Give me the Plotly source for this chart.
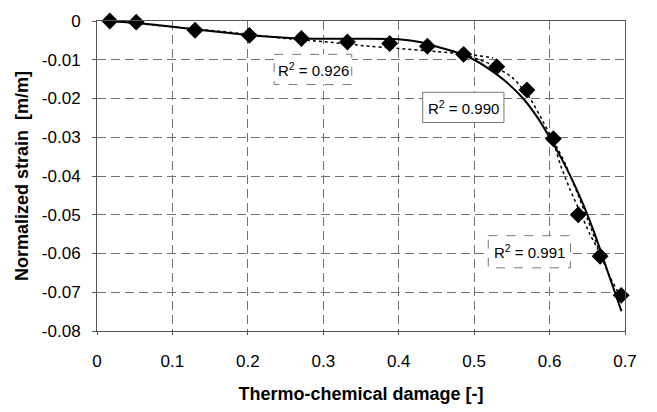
import plotly.graph_objects as go

# Measured data points
damage = [0.017, 0.052, 0.130, 0.202, 0.271, 0.332, 0.388, 0.438, 0.486, 0.530, 0.570, 0.605, 0.638, 0.667, 0.695]
strain = [0.0, -0.0003, -0.0024, -0.0037, -0.0045, -0.0054, -0.0058, -0.0065, -0.0086, -0.0118, -0.0178, -0.0304, -0.0500, -0.0607, -0.0708]

# Overall fit curve (solid)
fit_x = [0.017, 0.052, 0.10, 0.15, 0.20, 0.25, 0.30, 0.35, 0.40, 0.43, 0.45, 0.475, 0.50, 0.52, 0.54,
         0.565, 0.585, 0.60, 0.615, 0.63, 0.645, 0.66, 0.675, 0.6953]
fit_y = [0.0, -0.0005, -0.0015, -0.0026, -0.0036, -0.0043, -0.0046, -0.0046, -0.0047, -0.0055, -0.0066, -0.0080,
         -0.0100, -0.0124, -0.0153, -0.0200, -0.0252, -0.0300, -0.0352, -0.0410, -0.0475, -0.0550,
         -0.0635, -0.0749]

# Piecewise fits (dotted)
fit1_x = [0.017, 0.052, 0.10, 0.15, 0.20, 0.25, 0.30, 0.35, 0.40, 0.45, 0.50, 0.525]
fit1_y = [0.0, -0.0006, -0.0015, -0.0024, -0.0034, -0.0045, -0.0053, -0.0063, -0.0071, -0.0079, -0.0088, -0.0095]
fit2_x = [0.486, 0.52, 0.55, 0.5735, 0.5915, 0.6048, 0.6136, 0.627, 0.642, 0.6534, 0.6644]
fit2_y = [-0.0086, -0.0110, -0.0145, -0.0198, -0.0260, -0.0310, -0.0367, -0.0434, -0.0500, -0.0550, -0.0590]
fit3_x = [0.6048, 0.62, 0.638, 0.655, 0.667, 0.680, 0.695]
fit3_y = [-0.0308, -0.0365, -0.0450, -0.0535, -0.0600, -0.0660, -0.0715]

x_ticks = [0, 0.1, 0.2, 0.3, 0.4, 0.5, 0.6, 0.7]
x_tick_text = ["0", "0.1", "0.2", "0.3", "0.4", "0.5", "0.6", "0.7"]
y_ticks = [0, -0.01, -0.02, -0.03, -0.04, -0.05, -0.06, -0.07, -0.08]
y_tick_text = ["0", "-0.01", "-0.02", "-0.03", "-0.04", "-0.05", "-0.06", "-0.07", "-0.08"]

labels = ["R<sup>2</sup> = 0.926", "R<sup>2</sup> = 0.990", "R<sup>2</sup> = 0.991"]
label_x = [0.2865, 0.4856, 0.5733]
label_y = [-0.0125, -0.0223, -0.0596]

FONT = "Arial, 'Liberation Sans', sans-serif"

fig = go.Figure()
for fx, fy in [(fit1_x, fit1_y), (fit2_x, fit2_y), (fit3_x, fit3_y)]:
    fig.add_trace(go.Scatter(x=fx, y=fy, mode="lines",
                             line=dict(color="black", width=1.5, dash="dot", shape="spline", smoothing=0.6),
                             showlegend=False, cliponaxis=False))
fig.add_trace(go.Scatter(x=fit_x, y=fit_y, mode="lines",
                         line=dict(color="black", width=2, shape="spline", smoothing=0.6),
                         showlegend=False, cliponaxis=False))
fig.add_trace(go.Scatter(x=damage, y=strain, mode="markers",
                         marker=dict(symbol="diamond", size=13, color="black"),
                         showlegend=False, cliponaxis=False))

# label boxes
boxes = [((0.2348, 0.3377), (-0.0086, -0.0164), "dash"),
         ((0.4318, 0.5395), (-0.0184, -0.0262), "solid"),
         ((0.5187, 0.6278), (-0.0554, -0.0637), "dash")]
for (x0, x1), (y0, y1), d in boxes:
    fig.add_shape(type="rect", x0=x0, x1=x1, y0=y0, y1=y1, xref="x", yref="y",
                  line=dict(color="#777777", width=1, dash=d), fillcolor="white", layer="above")
for t, x, y in zip(labels, label_x, label_y):
    fig.add_annotation(x=x, y=y, xref="x", yref="y", text=t, showarrow=False,
                       font=dict(family=FONT, size=15, color="black"))

grid = dict(showgrid=True, gridcolor="#707070", gridwidth=1, griddash="9px,5px")
fig.update_xaxes(range=[0, 0.7], tickvals=x_ticks, ticktext=x_tick_text, **grid,
                 showline=True, linecolor="#555555", linewidth=1, mirror=True,
                 ticks="outside", ticklen=3, tickcolor="#555555", zeroline=False, ticklabelstandoff=12,
                 tickfont=dict(family=FONT, size=17, color="black"),
                 title=dict(text="<b>Thermo-chemical damage [-]</b>", font=dict(family=FONT, size=18, color="black"),
                            standoff=16))
fig.update_yaxes(range=[-0.08, 0], tickvals=y_ticks, ticktext=y_tick_text, **grid,
                 showline=True, linecolor="#555555", linewidth=1, mirror=True,
                 ticks="outside", ticklen=4, tickcolor="#555555", zeroline=False, ticklabelstandoff=8,
                 tickfont=dict(family=FONT, size=17, color="black"),
                 title=dict(text="<b>Normalized strain  [m/m]</b>", font=dict(family=FONT, size=18, color="black"),
                            standoff=8))
fig.update_layout(width=657, height=412, margin=dict(l=97, r=32, t=12, b=78),
                  plot_bgcolor="white", paper_bgcolor="white")
fig.write_html("out.html")
